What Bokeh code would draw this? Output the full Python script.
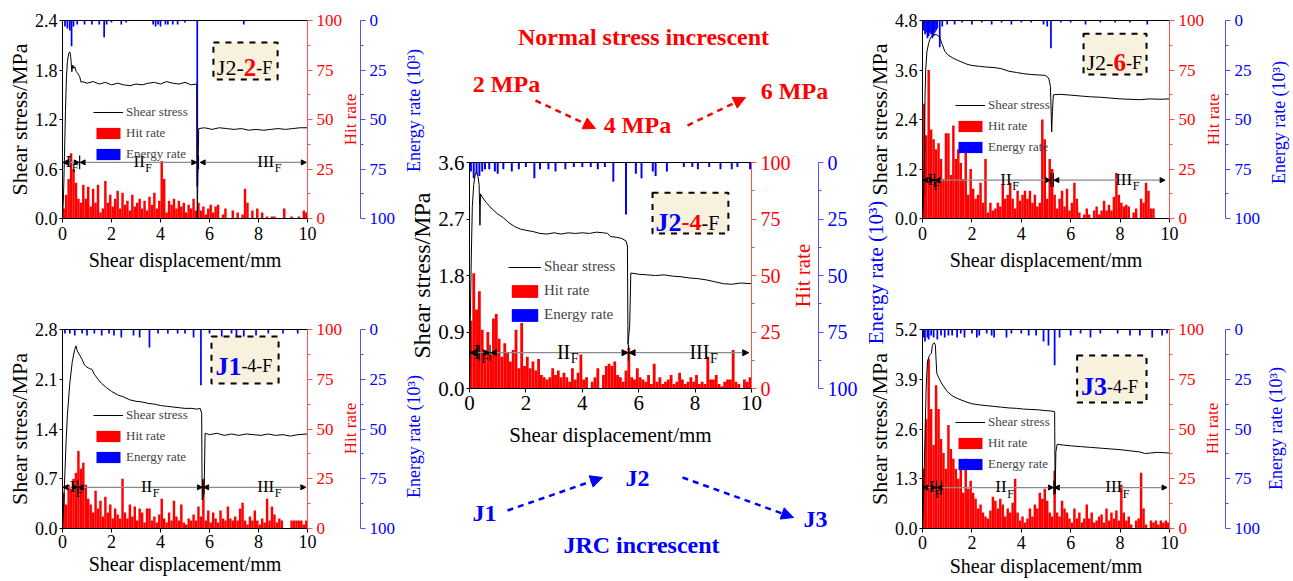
import math
from bokeh.plotting import figure
from bokeh.models import (Range1d, LinearAxis, FixedTicker, NumeralTickFormatter, Legend,
                          LegendItem, BoxAnnotation, Label, Arrow, NormalHead, Column, Row)
from bokeh.embed import file_html
from bokeh.resources import INLINE
from bokeh.core.properties import value

FONT = "Liberation Serif"
RED = "#ff0000"
BLUE = "#0000ff"

bin_centers = [round(0.05 + 0.1 * i, 2) for i in range(100)]
x_ticks = [0, 2, 4, 6, 8, 10]
rate_ticks = [0, 25, 50, 75, 100]
rate_minor = [12.5, 37.5, 62.5, 87.5]

# ---------------- J2-2-F (top left) ----------------
tl_shear_x = [0, 0.04, 0.08, 0.12, 0.16, 0.2, 0.25, 0.3, 0.34, 0.38, 0.42, 0.46, 0.5, 0.56, 0.62, 0.7, 0.76, 0.8,
              1.0, 1.25, 1.5, 1.75, 2.0, 2.25, 2.5, 2.75, 3.0, 3.25, 3.5, 3.75, 4.0, 4.25, 4.5, 4.75, 5.0, 5.25,
              5.48, 5.5, 5.53, 5.56, 5.8, 6.1, 6.4, 6.7, 7.0, 7.3, 7.6, 7.9, 8.2, 8.5, 8.8, 9.1, 9.4, 9.7, 10.0]
tl_shear_y = [0, 0.25, 0.75, 1.3, 1.7, 1.9, 2.0, 2.02, 1.95, 1.78, 1.86, 1.82, 1.84, 1.78, 1.76, 1.72, 1.65, 1.66,
              1.64, 1.66, 1.63, 1.65, 1.62, 1.64, 1.62, 1.61, 1.63, 1.62, 1.64, 1.65, 1.63, 1.66, 1.64, 1.63, 1.65,
              1.62, 1.63, 0.0, 0.6, 1.09, 1.1, 1.08, 1.1, 1.09, 1.08, 1.09, 1.07, 1.08, 1.07, 1.08, 1.09, 1.08,
              1.09, 1.1, 1.1]
tl_hit = [5, 12, 20, 33, 25, 18, 10, 8, 17, 10,
          16, 6, 15, 8, 17, 3, 5, 19, 8, 12,
          6, 10, 14, 5, 13, 7, 9, 4, 12, 6,
          8, 10, 5, 9, 4, 11, 7, 13, 5, 9,
          29, 20, 3, 9, 7, 10, 5, 9, 6, 8,
          3, 7, 5, 10, 4, 8, 4, 6, 2, 5,
          7, 3, 6, 7, 0, 2, 5, 0, 0, 4,
          0, 3, 0, 2, 15, 8, 0, 4, 0, 5,
          0, 3, 0, 1, 0, 1, 1, 0, 0, 0,
          5, 0, 0, 1, 0, 0, 1, 0, 4, 3]
tl_energy_x = [0.1, 0.2, 0.3, 0.37, 0.45, 0.6, 0.9, 1.2, 1.5, 1.7, 1.8, 2.0, 2.4, 2.6, 3.7, 3.8, 3.9, 4.0, 4.2,
               4.3, 4.5, 4.7, 5.0, 5.5, 7.4]
tl_energy_v = [3, 4, 5, 13, 3, 2, 2, 2, 2, 8.5, 2, 1, 2, 1, 2, 3, 2, 3, 2, 2, 2, 2, 1, 84, 2]

# ---------------- J1-4-F (bottom left) ----------------
bl_shear_x = [0, 0.05, 0.1, 0.15, 0.2, 0.3, 0.4, 0.5, 0.55, 0.6, 0.7, 0.8, 0.9, 1.0, 1.1, 1.2, 1.3, 1.45, 1.6,
              1.8, 2.0, 2.25, 2.5, 2.75, 3.0, 3.25, 3.5, 3.75, 4.0, 4.25, 4.5, 4.75, 5.0, 5.25, 5.5, 5.62, 5.68,
              5.7, 5.78, 5.82, 6.0, 6.3, 6.6, 6.9, 7.2, 7.5, 7.8, 8.1, 8.4, 8.7, 9.0, 9.3, 9.6, 10.0]
bl_shear_y = [0, 0.35, 0.8, 1.25, 1.6, 2.05, 2.35, 2.52, 2.57, 2.5, 2.44, 2.38, 2.3, 2.27, 2.25, 2.24, 2.17, 2.1,
              2.04, 1.98, 1.93, 1.88, 1.85, 1.81, 1.79, 1.78, 1.76, 1.75, 1.73, 1.72, 1.71, 1.7, 1.69, 1.69, 1.68,
              1.69, 1.62, 0.4, 0.5, 1.34, 1.32, 1.34, 1.31, 1.33, 1.31, 1.33, 1.32, 1.31, 1.33, 1.31, 1.32, 1.3,
              1.32, 1.33]
bl_hit = [18, 12, 22, 20, 25, 28, 39, 30, 33, 22,
          15, 12, 8, 19, 10, 14, 6, 16, 8, 12,
          5, 10, 7, 5, 25, 8, 5, 12, 6, 11,
          4, 10, 8, 3, 10, 10, 4, 6, 3, 7,
          15, 5, 3, 8, 4, 14, 6, 4, 12, 3,
          2, 5, 4, 7, 4, 11, 6, 25, 4, 9,
          3, 8, 5, 3, 9, 5, 4, 11, 5, 4,
          6, 4, 10, 13, 4, 2, 6, 4, 9, 4,
          2, 5, 3, 15, 4, 11, 7, 3, 5, 4,
          0, 0, 0, 4, 4, 4, 4, 4, 2, 4]
bl_energy_x = [0.1, 0.3, 0.5, 0.8, 1.0, 1.3, 1.6, 1.9, 2.1, 2.4, 2.9, 3.15, 3.55, 3.9, 4.3, 4.7, 5.0, 5.35, 5.65,
               6.0, 6.5, 6.9, 7.1, 7.4, 7.9, 8.4, 9.0, 9.6]
bl_energy_v = [2, 2, 3, 2, 3, 2, 3, 2, 3, 4, 3, 4, 9, 2, 2, 2, 2, 4, 28, 2, 4, 2, 4, 4, 3, 2, 2, 2]

# ---------------- J2-4-F (centre) ----------------
c_shear_x = [0, 0.03, 0.06, 0.1, 0.15, 0.2, 0.25, 0.3, 0.34, 0.36, 0.37, 0.39, 0.45, 0.6, 0.8, 1.0, 1.2, 1.4,
             1.6, 1.8, 2.0, 2.25, 2.5, 2.75, 3.0, 3.25, 3.5, 3.75, 4.0, 4.25, 4.5, 4.75, 4.9, 5.0, 5.2, 5.4, 5.55,
             5.6, 5.62, 5.68, 5.72, 6.0, 6.3, 6.6, 6.9, 7.2, 7.5, 7.8, 8.1, 8.4, 8.7, 9.0, 9.3, 9.6, 10.0]
c_shear_y = [0, 1.1, 2.0, 2.9, 3.25, 3.4, 3.45, 3.38, 3.25, 2.9, 2.6, 3.1, 3.05, 2.96, 2.86, 2.78, 2.72, 2.64,
             2.58, 2.54, 2.52, 2.5, 2.47, 2.46, 2.48, 2.46, 2.48, 2.47, 2.48, 2.47, 2.49, 2.48, 2.47, 2.42, 2.41,
             2.39, 2.35, 2.27, 0.7, 1.0, 1.84, 1.82, 1.81, 1.8, 1.81, 1.79, 1.78, 1.76, 1.75, 1.73, 1.7, 1.67,
             1.66, 1.68, 1.67]
c_hit = [30, 51, 35, 43, 26, 15, 25, 15, 31, 33,
         22, 14, 20, 16, 12, 17, 26, 9, 29, 10,
         14, 9, 12, 8, 13, 6, 5, 4, 5, 9,
         6, 8, 5, 7, 5, 3, 9, 4, 7, 15,
         4, 5, 0, 3, 5, 9, 0, 6, 10, 11,
         10, 12, 6, 5, 3, 8, 18, 5, 4, 9,
         5, 4, 3, 6, 2, 11, 3, 5, 2, 3,
         4, 6, 2, 3, 7, 4, 2, 3, 5, 3,
         6, 2, 3, 2, 14, 4, 4, 6, 2, 1,
         3, 4, 4, 17, 3, 2, 0, 4, 3, 5]
c_energy_x = [0.05, 0.15, 0.25, 0.35, 0.45, 0.55, 0.7, 0.9, 1.0, 1.2, 1.5, 1.75, 2.0, 2.3, 2.5, 2.8, 3.05, 3.4,
              3.7, 4.0, 4.3, 4.55, 4.8, 5.1, 5.55, 5.9, 6.1, 6.5, 6.6, 7.0, 7.6, 7.9, 8.1, 8.5, 8.9, 9.3, 9.5, 9.95]
c_energy_v = [4, 7, 5, 6, 4, 3, 3, 4, 5, 3, 4, 3, 2, 7, 3, 3, 4, 3, 2, 2, 2, 3, 2, 8.5, 23, 5, 7, 4, 6, 4, 2, 2,
              3, 2, 3, 3, 2, 3]

# ---------------- J2-6-F (top right) ----------------
tr_shear_x = [0, 0.05, 0.09, 0.1, 0.13, 0.18, 0.25, 0.32, 0.4, 0.5, 0.6, 0.7, 0.8, 0.9, 1.0, 1.2, 1.4, 1.6, 1.8,
              2.0, 2.3, 2.6, 2.9, 3.2, 3.5, 3.8, 4.1, 4.4, 4.7, 4.95, 5.05, 5.12, 5.18, 5.23, 5.26, 5.3, 5.6, 6.0,
              6.4, 6.8, 7.2, 7.6, 8.0, 8.4, 8.8, 9.2, 9.6, 10.0]
tr_shear_y = [0, 0.6, 1.7, 2.9, 3.6, 4.05, 4.25, 4.38, 4.44, 4.46, 4.45, 4.38, 4.22, 4.06, 3.98, 3.9, 3.84, 3.79,
              3.74, 3.71, 3.69, 3.67, 3.66, 3.63, 3.57, 3.54, 3.51, 3.49, 3.48, 3.47, 3.44, 3.38, 3.2, 2.1, 2.6,
              3.0, 3.01, 2.99, 2.97, 2.95, 2.94, 2.92, 2.9, 2.89, 2.88, 2.9, 2.89, 2.9]
tr_hit = [58, 42, 75, 45, 40, 35, 38, 30, 20, 43,
          43, 22, 47, 30, 35, 28, 20, 38, 12, 25,
          15, 10, 12, 18, 8, 30, 3, 8, 4, 5,
          8, 6, 17, 10, 12, 18, 10, 5, 14, 9,
          12, 14, 10, 14, 8, 12, 6, 8, 50, 40,
          10, 30, 25, 12, 5, 10, 14, 6, 15, 4,
          8, 18, 10, 3, 0, 2, 5, 2, 0, 4,
          6, 2, 4, 9, 4, 7, 4, 11, 23, 12,
          8, 6, 7, 6, 0, 3, 5, 0, 10, 8,
          18, 14, 5, 5, 0, 0, 0, 0, 0, 0]
tr_energy_x = [0.05, 0.1, 0.15, 0.2, 0.25, 0.3, 0.35, 0.4, 0.45, 0.5, 0.55, 0.6, 0.7, 0.8, 1.0, 1.3, 1.6, 2.0,
               2.4, 2.8, 3.2, 3.6, 4.0, 4.4, 4.9, 5.05, 5.2, 5.6, 6.0, 6.6, 7.2, 7.8, 8.4, 9.1]
tr_energy_v = [5, 7, 6, 9, 8, 6, 7, 9, 8, 6, 5, 4, 13.5, 3, 2, 2, 1, 2, 1, 2, 1, 2, 1, 1, 2, 3, 14, 1, 1, 2, 1, 1,
               1, 2]

# ---------------- J3-4-F (bottom right) ----------------
br_shear_x = [0, 0.05, 0.1, 0.15, 0.2, 0.28, 0.36, 0.4, 0.44, 0.48, 0.52, 0.55, 0.58, 0.65, 0.75, 0.85, 1.0, 1.2,
              1.4, 1.6, 1.8, 2.0, 2.3, 2.6, 2.9, 3.2, 3.5, 3.8, 4.1, 4.4, 4.7, 5.0, 5.2, 5.35, 5.37, 5.4, 5.45,
              5.7, 6.0, 6.4, 6.8, 7.2, 7.6, 8.0, 8.4, 8.8, 9.0, 9.2, 9.5, 9.8, 10.0]
br_shear_y = [0, 1.0, 2.4, 3.7, 4.35, 4.52, 4.58, 4.78, 4.84, 4.85, 4.8, 4.4, 4.05, 3.95, 3.82, 3.72, 3.58, 3.47,
              3.4, 3.35, 3.3, 3.26, 3.23, 3.21, 3.19, 3.17, 3.15, 3.14, 3.12, 3.11, 3.1, 3.08, 3.07, 3.05, 0.9,
              2.0, 2.2, 2.18, 2.16, 2.14, 2.12, 2.1, 2.08, 2.06, 2.03, 2.0, 1.96, 1.97, 1.99, 1.98, 1.97]
br_hit = [30, 55, 85, 60, 42, 72, 60, 45, 38, 30,
          52, 40, 35, 30, 25, 32, 18, 35, 20, 24,
          18, 15, 10, 12, 8, 6, 5, 9, 16, 14,
          10, 15, 12, 6, 10, 8, 13, 25, 8, 4,
          6, 3, 5, 10, 6, 12, 10, 18, 15, 20,
          14, 8, 6, 29, 8, 6, 14, 10, 8, 5,
          3, 10, 5, 8, 3, 5, 12, 5, 8, 3,
          4, 6, 7, 3, 10, 4, 8, 5, 9, 4,
          22, 8, 4, 6, 2, 0, 4, 5, 28, 10,
          2, 0, 4, 3, 4, 2, 4, 3, 4, 3]
br_energy_x = [0.05, 0.1, 0.2, 0.25, 0.35, 0.45, 0.6, 0.75, 0.9, 1.05, 1.2, 1.4, 1.55, 1.7, 2.0, 2.2, 2.3, 2.6,
               2.8, 2.9, 3.4, 3.6, 4.0, 4.3, 4.6, 4.9, 5.1, 5.35, 5.55, 6.0, 6.4, 6.8, 7.2, 7.9, 8.4, 8.8, 9.3,
               9.7, 9.9]
br_energy_v = [4, 6, 4, 5, 3, 4, 5, 3, 4, 3, 3, 4, 2, 4, 2, 4, 3, 2, 3, 4, 4, 2, 2, 3, 3, 6, 8, 18, 4, 3, 2, 4, 2,
               2, 3, 3, 4, 3, 2]

# ---------------- free texts (page pixel positions) ----------------
normal_labels = ["Normal stress increscent", "2 MPa", "4 MPa", "6 MPa"]
normal_pos = [(643, 36), (506, 83), (637, 124), (794, 90)]
normal_arrows = [(535, 100, 595, 128), (687, 125, 745, 97)]
jrc_labels = ["J1", "J2", "J3", "JRC increscent"]
jrc_pos = [(484, 512), (637, 477), (815, 518), (641, 544)]
jrc_arrows = [(507, 510, 602, 477), (682, 477, 793, 517)]
# right-hand axis titles: (text, x, y, size, colour)
axis_titles = [("Hit rate", 350, 119, 17, RED), ("Energy rate (10³)", 413, 110, 18, BLUE),
               ("Hit rate", 350, 428, 17, RED), ("Energy rate (10³)", 413, 436, 18, BLUE),
               ("Hit rate", 802, 275, 21, RED), ("Energy rate (10³)", 875, 272, 21, BLUE),
               ("Hit rate", 1213, 119, 17, RED), ("Energy rate (10³)", 1278, 122, 18, BLUE),
               ("Hit rate", 1212, 428, 17, RED), ("Energy rate (10³)", 1275, 428, 18, BLUE)]

CHAR_W = {"J": 0.389, "F": 0.556, "-": 0.333, "I": 0.333}
CHAR_WB = {"J": 0.5, "F": 0.611, "-": 0.333, "I": 0.389}


def text_w(txt, size, bold):
    tab = CHAR_WB if bold else CHAR_W
    return sum(tab.get(c, 0.5) for c in txt) * size


def style_axis(ax, color, line_color, tsize, lsize, tick_out, lstand, astand):
    ax.axis_line_color = line_color
    ax.major_tick_line_color = line_color
    ax.minor_tick_line_color = line_color
    ax.major_label_text_color = color
    ax.axis_label_text_color = color
    ax.major_label_text_font = FONT
    ax.axis_label_text_font = FONT
    ax.major_label_text_font_size = f"{tsize}px"
    ax.axis_label_text_font_size = f"{lsize}px"
    ax.axis_label_text_font_style = "normal"
    ax.major_tick_out = tick_out
    ax.major_tick_in = 0
    ax.minor_tick_out = 3
    ax.minor_tick_in = 0
    ax.major_label_standoff = lstand
    ax.axis_label_standoff = astand


def make_panel(P):
    big = P["big"]
    ymax = P["ymax"]
    fw, fh = P["fw"], P["fh"]
    p = figure(frame_width=fw, frame_height=fh, x_range=Range1d(0, 10), y_range=Range1d(0, ymax),
               output_backend="svg", toolbar_location=None,
               min_border_left=P["mb"][0], min_border_right=P["mb"][1],
               min_border_top=P["mb"][2], min_border_bottom=P["mb"][3],
               border_fill_color=None, background_fill_color=None,
               outline_line_color="black", outline_line_width=1)
    p.grid.visible = False
    p.extra_y_ranges = {"hit": Range1d(0, 100), "energy": Range1d(100, 0)}

    ts = 21 if big else 18
    ls = 24 if big else 22
    xs = 21 if big else 18
    xls = 21 if big else 20
    rs = 20 if big else 17

    ya = p.yaxis[0]
    style_axis(ya, "black", "black", ts, ls, 3, 2, 0)
    ya.ticker = FixedTicker(ticks=P["yticks"])
    ya.formatter = NumeralTickFormatter(format="0.0")
    ya.axis_label = "Shear stress/MPa"

    xa = p.xaxis[0]
    style_axis(xa, "black", "black", xs, xls, 4, P["xst"][0], P["xst"][1])
    xa.ticker = FixedTicker(ticks=x_ticks)
    xa.axis_label = "Shear displacement/mm"

    # hit-rate axis: its (hidden) title only reserves room; the visible title is drawn in the overlay
    ha = LinearAxis(y_range_name="hit", axis_label="Hit rate")
    style_axis(ha, RED, "#ff5050", rs, P["hid"], 5, 4, P["gap"])
    ha.axis_label_text_alpha = 0
    ha.ticker = FixedTicker(ticks=rate_ticks, minor_ticks=rate_minor)
    p.add_layout(ha, "right")

    ea = LinearAxis(y_range_name="energy")
    style_axis(ea, BLUE, "#5050ff", rs, 12, 5, 4, 4)
    ea.ticker = FixedTicker(ticks=rate_ticks, minor_ticks=rate_minor)
    p.add_layout(ea, "right")

    h = p.vbar(x=bin_centers, top=P["hit"], bottom=0, width=0.1, y_range_name="hit",
               fill_color=RED, line_color=None)
    e = p.vbar(x=P["ex"], top=0, bottom=P["ev"], width=0.07, y_range_name="energy",
               fill_color=BLUE, line_color=None)
    s = p.line(P["sx"], P["sy"], line_color="black", line_width=1)

    gw, gh, lf, sp = (33, 16, 15, 7) if big else (30, 14, 13, 5)
    leg = Legend(items=[LegendItem(label="Shear stress", renderers=[s]),
                        LegendItem(label="Hit rate", renderers=[h]),
                        LegendItem(label="Energy rate", renderers=[e])],
                 location=P["leg"], glyph_width=gw, glyph_height=gh, label_height=gh,
                 label_text_font=FONT, label_text_font_size=f"{lf}px", spacing=sp, padding=0, margin=0,
                 border_line_color=None, background_fill_alpha=0, label_standoff=3)
    p.add_layout(leg)

    # stage markers
    sy = P["stage_y"]
    hs = 6 if big else 5
    for a, b in P["segs"]:
        p.add_layout(Arrow(x_start=a, y_start=sy, x_end=b, y_end=sy,
                           start=NormalHead(size=hs, fill_color="black", line_color="black"),
                           end=NormalHead(size=hs, fill_color="black", line_color="black"),
                           line_color="#8a8a8a", line_width=1.2))
    d = ymax * 0.035
    p.segment(x0=P["marks"], y0=[sy - d] * len(P["marks"]), x1=P["marks"], y1=[sy + d] * len(P["marks"]),
              line_color="black", line_width=1.2)
    ms, ss = (20, 14) if big else (17, 12)
    pxu = ymax / fh
    for txt, lx in zip(["I", "II", "III"], P["lab_x"]):
        p.add_layout(Label(x=lx, y=sy + 1 * pxu, text=txt, text_font=FONT, text_font_size=f"{ms}px",
                           text_baseline="alphabetic", text_color="black"))
        p.add_layout(Label(x=lx, y=sy - 6 * pxu, x_offset=text_w(txt, ms, False) + 0.5, text="F",
                           text_font=FONT, text_font_size=f"{ss}px", text_baseline="alphabetic",
                           text_color="black"))

    # sample tag
    bx0, bx1, by0, by1 = P["box"]
    p.add_layout(BoxAnnotation(left=bx0, right=bx1, bottom=by0, top=by1, fill_color="#f7f1de", fill_alpha=1,
                               line_color="black", line_alpha=1, line_dash="dashed", line_width=2))
    tx, ty = P["tag_xy"]
    off = 0
    for txt, size, col, bold in P["tag"]:
        p.add_layout(Label(x=tx, y=ty, x_offset=off, text=txt, text_font=FONT, text_font_size=f"{size}px",
                           text_font_style="bold" if bold else "normal", text_color=col,
                           text_baseline="alphabetic"))
        off += text_w(txt, size, bold)
    return p


TL = make_panel(dict(big=False, ymax=2.4, yticks=[0, 0.6, 1.2, 1.8, 2.4], fw=245, fh=198,
                     mb=(62, 130, 20, 99), gap=0, hid=11, xst=(4, 6),
                     sx=tl_shear_x, sy=tl_shear_y, hit=tl_hit, ex=tl_energy_x, ev=tl_energy_v,
                     leg=(31, 56), stage_y=0.68, segs=[(0.02, 0.68), (0.72, 5.48), (5.62, 9.95)],
                     marks=[0.7, 5.55], lab_x=[0.13, 2.9, 7.95],
                     box=(6.16, 8.78, 1.685, 2.133), tag_xy=(6.3, 1.83),
                     tag=[("J2-", 22, "black", False), ("2", 25, RED, True), ("-F", 18, "black", False)]))
BL = make_panel(dict(big=False, ymax=2.8, yticks=[0, 0.7, 1.4, 2.1, 2.8], fw=245, fh=199,
                     mb=(62, 130, 12, 52), gap=0, hid=11, xst=(2, 2),
                     sx=bl_shear_x, sy=bl_shear_y, hit=bl_hit, ex=bl_energy_x, ev=bl_energy_v,
                     leg=(31, 63), stage_y=0.58, segs=[(0.02, 0.61), (0.65, 5.71), (5.76, 9.93)],
                     marks=[0.63, 5.73], lab_x=[0.3, 3.2, 7.95],
                     box=(6.08, 8.82, 2.04, 2.70), tag_xy=(6.24, 2.28),
                     tag=[("J1", 26, BLUE, True), ("-4-F", 18, "black", False)]))
C = make_panel(dict(big=True, ymax=3.6, yticks=[0, 0.9, 1.8, 2.7, 3.6], fw=282, fh=226,
                    mb=(66, 150, 162, 192), gap=8, hid=12, xst=(3, 10),
                    sx=c_shear_x, sy=c_shear_y, hit=c_hit, ex=c_energy_x, ev=c_energy_v,
                    leg=(39, 65), stage_y=0.57, segs=[(0.02, 0.71), (0.75, 5.62), (5.66, 9.9)],
                    marks=[0.35, 0.73, 5.64], lab_x=[0.15, 3.1, 7.8],
                    box=(6.49, 9.18, 2.47, 3.12), tag_xy=(6.6, 2.64),
                    tag=[("J2", 26, BLUE, True), ("-4", 24, RED, True), ("-F", 20, "black", False)]))
TR = make_panel(dict(big=False, ymax=4.8, yticks=[0, 1.2, 2.4, 3.6, 4.8], fw=247, fh=198,
                     mb=(62, 122, 20, 99), gap=3, hid=11, xst=(4, 6),
                     sx=tr_shear_x, sy=tr_shear_y, hit=tr_hit, ex=tr_energy_x, ev=tr_energy_v,
                     leg=(33, 63), stage_y=0.93, segs=[(0.02, 0.47), (0.51, 5.18), (5.32, 9.82)],
                     marks=[0.49, 5.2, 5.3], lab_x=[0.2, 3.15, 7.8],
                     box=(6.52, 9.07, 3.49, 4.48), tag_xy=(6.64, 3.78),
                     tag=[("J2-", 22, "black", False), ("6", 25, RED, True), ("-F", 18, "black", False)]))
BR = make_panel(dict(big=False, ymax=5.2, yticks=[0, 1.3, 2.6, 3.9, 5.2], fw=247, fh=199,
                     mb=(62, 122, 12, 52), gap=3, hid=11, xst=(3, 3),
                     sx=br_shear_x, sy=br_shear_y, hit=br_hit, ex=br_energy_x, ev=br_energy_v,
                     leg=(33, 56), stage_y=1.07, segs=[(0.02, 0.55), (0.59, 5.3), (5.34, 9.9)],
                     marks=[0.57, 0.77, 5.32], lab_x=[0.25, 2.95, 7.4],
                     box=(6.26, 9.07, 3.29, 4.52), tag_xy=(6.42, 3.71),
                     tag=[("J3", 26, BLUE, True), ("-4-F", 18, "black", False)]))

# ---------------- transparent overlay for the free texts ----------------
OW, OH = 1290, 578
ov = figure(frame_width=OW, frame_height=OH, x_range=Range1d(0, OW), y_range=Range1d(OH, 0),
            output_backend="svg", toolbar_location=None, x_axis_type=None, y_axis_type=None,
            min_border=0, outline_line_color=None, border_fill_color=None, background_fill_color=None)
ov.grid.visible = False
for labels, pos, color, arrows in [(normal_labels, normal_pos, RED, normal_arrows),
                                   (jrc_labels, jrc_pos, BLUE, jrc_arrows)]:
    ov.text(x=[q[0] for q in pos], y=[q[1] for q in pos], text=labels, text_font=value(FONT),
            text_font_style="bold", text_color=color, text_font_size="24px", text_align="center",
            text_baseline="middle")
    for (x0, y0, x1, y1) in arrows:
        ov.add_layout(Arrow(x_start=x0, y_start=y0, x_end=x1, y_end=y1, line_color=color, line_width=2.5,
                            line_dash="6 5", end=NormalHead(size=12, fill_color=color, line_color=color)))
for txt, x, y, size, col in axis_titles:
    ov.add_layout(Label(x=x, y=y, text=txt, angle=math.pi / 2, text_font=FONT, text_font_size=f"{size}px",
                        text_color=col, text_align="center", text_baseline="middle"))

colL = Column(children=[TL, BL], spacing=0)
colC = Column(children=[C], spacing=0, margin=(0, 0, 0, -34))
colR = Column(children=[TR, BR], spacing=0, margin=(0, 0, 0, -41))
main = Row(children=[colL, colC, colR], spacing=0)
ov.margin = (-580, 0, 0, 0)
layout = Column(children=[main, ov], spacing=0)

open("out.html", "w").write(file_html(layout, INLINE))
